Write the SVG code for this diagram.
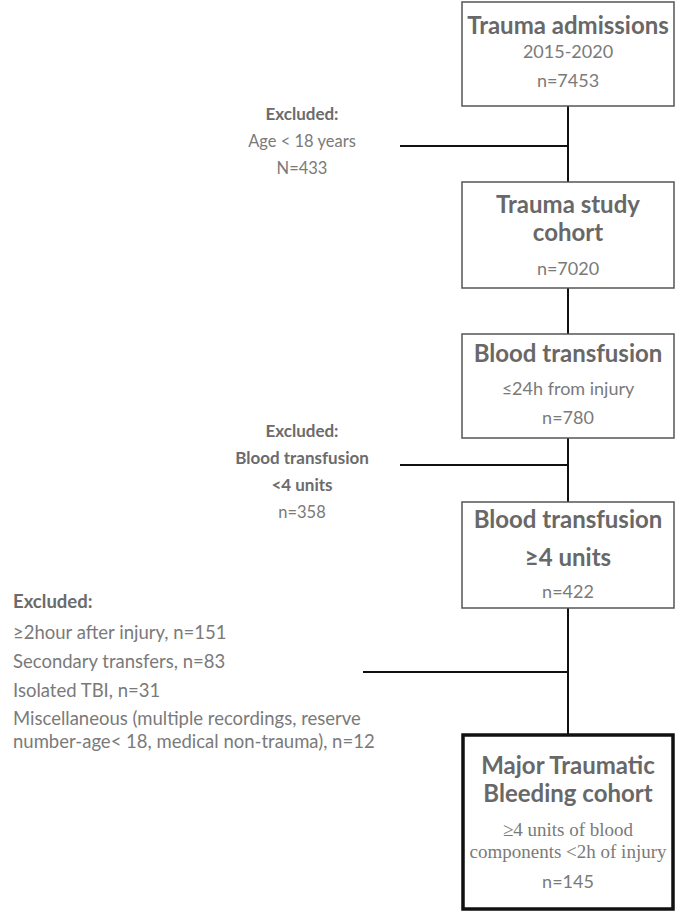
<svg xmlns="http://www.w3.org/2000/svg" width="685" height="913" viewBox="0 0 685 913">
<style>
.box{fill:#fff;stroke:#555;stroke-width:1.5}
.final{fill:#fff;stroke:#111;stroke-width:3.5}
.t{font-family:Lato,"Open Sans",sans-serif;font-weight:bold;fill:#686868;font-size:24px;text-anchor:middle}
.s{font-family:Lato,"Open Sans",sans-serif;fill:#7a7a7a;font-size:18px;text-anchor:middle}
.sr{font-family:"Liberation Serif",serif;fill:#7a7a7a;font-size:19px;text-anchor:middle}
.eb{font-family:Lato,"Open Sans",sans-serif;font-weight:bold;fill:#6b6b6b;font-size:17px}
.e{font-family:Lato,"Open Sans",sans-serif;fill:#7a7a7a;font-size:16.5px}
.x{font-size:18.5px}
.c{stroke:#111;stroke-width:2;fill:none}
</style>
<g id="connectors">
<line class="c" x1="568" y1="106" x2="568" y2="182"/>
<line class="c" x1="568" y1="288" x2="568" y2="334"/>
<line class="c" x1="568" y1="438" x2="568" y2="502"/>
<line class="c" x1="568" y1="608" x2="568" y2="735"/>
<line class="c" x1="400" y1="146" x2="568" y2="146"/>
<line class="c" x1="400" y1="465" x2="568" y2="465"/>
<line class="c" x1="363" y1="672" x2="568" y2="672"/>
</g>
<g id="n1">
<rect class="box" x="462" y="2" width="212" height="104"/>
<text class="t" x="568" y="34">Trauma admissions</text>
<text class="s" x="568" y="58">2015-2020</text>
<text class="s" x="568" y="87">n=7453</text>
</g>
<g id="n2">
<rect class="box" x="462" y="182" width="212" height="106"/>
<text class="t" x="568" y="213">Trauma study</text>
<text class="t" x="568" y="241">cohort</text>
<text class="s" x="568" y="275">n=7020</text>
</g>
<g id="n3">
<rect class="box" x="462" y="334" width="212" height="104"/>
<text class="t" x="568" y="362">Blood transfusion</text>
<text class="s" x="568" y="395" font-size="19">≤24h from injury</text>
<text class="s" x="568" y="424">n=780</text>
</g>
<g id="n4">
<rect class="box" x="462" y="502" width="212" height="106"/>
<text class="t" x="568" y="528">Blood transfusion</text>
<text class="t" x="568" y="566">≥4 units</text>
<text class="s" x="568" y="598">n=422</text>
</g>
<g id="n5">
<rect class="final" x="463" y="735" width="210" height="174"/>
<text class="t" x="568" y="774">Major Traumatic</text>
<text class="t" x="568" y="802">Bleeding cohort</text>
<text class="sr" x="568" y="836">≥4 units of blood</text>
<text class="sr" x="568" y="858">components &lt;2h of injury</text>
<text class="s" x="568" y="888">n=145</text>
</g>
<g id="ex1">
<text class="eb" x="302" y="120" text-anchor="middle">Excluded:</text>
<text class="e" x="302" y="147" text-anchor="middle">Age &lt; 18 years</text>
<text class="e" x="302" y="174" text-anchor="middle">N=433</text>
</g>
<g id="ex2">
<text class="eb" x="302" y="437" text-anchor="middle">Excluded:</text>
<text class="eb" x="302" y="464" text-anchor="middle">Blood transfusion</text>
<text class="eb" x="302" y="491" text-anchor="middle">&lt;4 units</text>
<text class="e" x="302" y="518" text-anchor="middle">n=358</text>
</g>
<g id="ex3">
<text class="eb x" x="13" y="608">Excluded:</text>
<text class="e x" x="13" y="639">≥2hour after injury, n=151</text>
<text class="e x" x="13" y="668">Secondary transfers, n=83</text>
<text class="e x" x="13" y="697">Isolated TBI, n=31</text>
<text class="e x" x="13" y="725">Miscellaneous (multiple recordings, reserve</text>
<text class="e x" x="13" y="748">number-age&lt; 18, medical non-trauma), n=12</text>
</g>
</svg>
